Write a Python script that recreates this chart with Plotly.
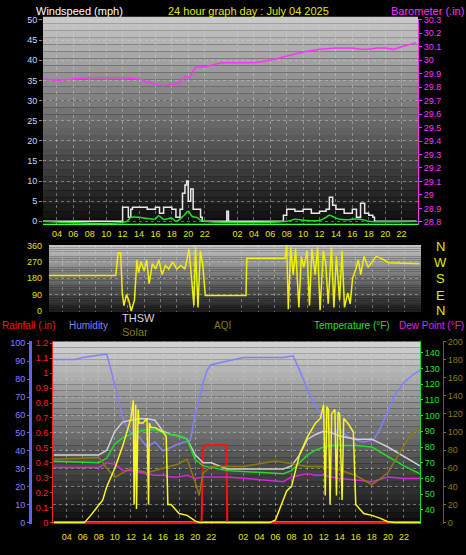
import plotly.graph_objects as go

W, H = 466, 555
def px(x): return x / W
def py(y): return 1 - y / H

# ---------------- data ----------------
hour_ticks = [4, 6, 8, 10, 12, 14, 16, 18, 20, 22, 26, 28, 30, 32, 34, 36, 38, 40, 42, 44, 46]
hour_labels = ["04", "06", "08", "10", "12", "14", "16", "18", "20", "22", "02", "04", "06", "08", "10", "12", "14", "16", "18", "20", "22"]
baro_ticks = [28.8, 28.9, 29.0, 29.1, 29.2, 29.3, 29.4, 29.5, 29.6, 29.7, 29.8, 29.9, 30.0, 30.1, 30.2, 30.3]
baro_labels = ["28.8", "28.9", "29", "29.1", "29.2", "29.3", "29.4", "29.5", "29.6", "29.7", "29.8", "29.9", "30", "30.1", "30.2", "30.3"]
rain_ticks = [0, 0.1, 0.2, 0.3, 0.4, 0.5, 0.6, 0.7, 0.8, 0.9, 1.0, 1.1, 1.2]
rain_labels = ["0", "0.1", "0.2", "0.3", "0.4", "0.5", "0.6", "0.7", "0.8", "0.9", "1", "1.1", "1.2"]

baro_t = [2.3, 4, 6, 8, 10, 12, 14, 16, 17, 18, 19, 19.6, 20.2, 20.6, 21, 22, 24, 26, 28, 30, 32, 34, 36, 38, 40, 41, 42, 43, 44, 45, 46, 47.8]
baro = [29.86, 29.85, 29.86, 29.87, 29.87, 29.87, 29.86, 29.82, 29.81, 29.82, 29.83, 29.88, 29.87, 29.92, 29.95, 29.95, 29.98, 29.98, 29.98, 30.00, 30.03, 30.06, 30.08, 30.09, 30.09, 30.08, 30.08, 30.09, 30.09, 30.08, 30.10, 30.13]

gust_t = [2.3, 11.9, 12.0, 12.6, 12.7, 13.0, 13.2, 14, 15, 16, 16.5, 17, 18, 18.5, 19, 19.3, 19.6, 19.8, 20.0, 20.3, 20.6, 21, 21.5, 21.7, 24.6, 24.7, 24.9, 25.0, 31.4, 31.6, 32, 33, 34, 35, 36, 36.8, 37.2, 37.6, 38, 39, 40, 40.5, 41, 41.5, 42, 42.5, 42.7, 47.8]
gust = [0, 0, 3.5, 3.5, 1, 3, 3.5, 3.5, 3, 3.5, 2, 3.5, 3, 1, 3, 7, 9, 10, 5, 8, 3, 3, 1, 0, 0, 2.5, 0, 0, 0, 1.5, 3, 2.5, 3, 2, 2.5, 3, 6, 4, 3, 2, 3, 1, 4.5, 2, 1.5, 1, 0, 0]
avg_t = [2.3, 12.5, 13, 14, 15, 16, 16.4, 17, 18, 18.5, 19.5, 20, 20.5, 21, 21.5, 22, 32, 33, 34, 36, 36.8, 37.2, 37.8, 38.5, 39.5, 40.5, 41.5, 42, 47.8]
avg = [0, 0, 1, 1, 0.7, 0.6, 1.4, 0.5, 0.8, 0, 1.5, 2.5, 1.2, 1, 0.3, 0, 0, 0.5, 0.3, 0.2, 1, 1.5, 1, 0.5, 0.4, 0.6, 0.3, 0, 0]

dir_t = [2.3, 10.5, 10.8, 11.1, 11.3, 11.5, 11.8, 12.1, 12.4, 12.8, 13.1, 13.3, 13.6, 14, 14.3, 14.6, 15, 15.4, 15.8, 16.2, 16.6, 17, 17.5, 18, 18.5, 19, 19.5, 19.8, 20.1, 20.3, 20.6, 20.9, 21.2, 21.5, 26.5, 26.6, 31.3, 31.5, 31.7, 32, 32.3, 32.6, 33, 33.3, 33.6, 34, 34.3, 34.6, 35, 35.3, 35.6, 36, 36.3, 36.6, 37, 37.3, 37.6, 38, 38.3, 38.6, 39, 39.3, 39.6, 40, 40.3, 40.6, 41, 41.5, 42, 42.5, 43, 43.5, 44, 47.8]
wdir = [195, 195, 320, 320, 100, 30, 90, 60, 0, 60, 280, 210, 270, 220, 280, 150, 260, 230, 280, 200, 250, 230, 270, 230, 250, 230, 340, 200, 30, 350, 20, 330, 250, 85, 85, 290, 290, 360, 10, 350, 200, 340, 20, 300, 240, 330, 30, 340, 200, 350, 5, 330, 260, 40, 350, 20, 300, 60, 330, 20, 100, 40, 180, 230, 280, 200, 300, 240, 270, 300, 290, 280, 265, 260]

hum_t = [2.4, 5, 6, 9, 10.1, 10.9, 11.3, 12, 13, 14, 15, 16, 17, 18, 19.4, 20, 21, 21.5, 22, 24, 26, 31, 32.2, 33, 33.9, 35, 36, 37, 38, 39, 40, 41, 42.2, 43, 44, 45, 46, 47, 48]
hum = [91, 91, 92, 94, 75, 60, 55, 50, 48, 42, 45, 40, 42, 44, 46, 60, 78, 85, 88, 90, 92, 92, 93, 85, 75, 65, 58, 50, 52, 48, 46, 45, 46, 52, 62, 72, 78, 82, 85]

th_t = [2.4, 8, 9, 10, 11, 12, 13, 14, 15, 16, 17, 18, 19, 20, 21, 22, 23, 24, 31, 32, 33, 34, 35, 36, 37, 38, 40, 42, 44, 46, 48]
thsw = [75, 75, 78, 90, 96, 97, 98, 98, 97, 90, 88, 87, 85, 75, 70, 70, 68, 66, 66, 68, 75, 85, 88, 90, 89, 87, 85, 85, 80, 74, 68]
temp = [71, 70, 73, 82, 86, 88, 90, 91, 91, 89, 88, 87, 85, 72, 68, 67, 66, 65, 63, 65, 70, 75, 78, 80, 81, 81, 81, 80, 74, 68, 63]
dew = [67, 67, 70, 69, 65, 65, 64, 63, 62, 62, 61, 61, 62, 60, 61, 61, 61, 61, 58, 61, 62, 63, 62, 62, 61, 60, 59, 58, 61, 60, 60]

sol_t = [2.4, 6.2, 7, 8, 8.5, 9, 10, 11, 12, 12.3, 12.4, 12.6, 12.7, 12.9, 13, 13.5, 14, 14.2, 14.3, 14.5, 15, 16, 16.4, 16.6, 17, 18, 19, 20, 20.5, 29.3, 30, 31.4, 32, 33, 34, 35, 35.6, 36, 36.2, 36.4, 36.6, 36.8, 37, 37.4, 37.6, 37.8, 38, 38.3, 38.5, 39, 39.4, 39.7, 40, 41, 42, 43, 44, 45, 48]
solar = [0, 0, 8, 20, 25, 40, 60, 85, 115, 135, 20, 130, 15, 125, 110, 110, 115, 20, 110, 105, 105, 100, 95, 20, 20, 10, 8, 2, 0, 0, 3, 35, 40, 75, 95, 110, 115, 130, 30, 128, 125, 20, 120, 125, 30, 122, 120, 25, 115, 110, 105, 100, 20, 10, 8, 5, 1, 0, 0]

aqi_t = [2.4, 8, 9, 10, 11, 12, 14, 16, 18, 19, 20, 20.5, 21, 22, 24, 26, 28, 30, 32, 34, 36, 38, 40, 42, 43, 44, 45, 46, 47, 48]
aqi = [70, 72, 60, 50, 55, 60, 55, 60, 65, 70, 45, 30, 55, 62, 62, 62, 65, 68, 65, 62, 62, 58, 52, 42, 48, 55, 70, 85, 98, 105]

rain_t = [2.4, 20.8, 21.0, 21.3, 23.9, 24.0, 48]
rain = [0, 0, 0.5, 0.52, 0.52, 0, 0]

# ---------------- figure ----------------
FONT = "Liberation Sans"
YEL = "#e6e600"
fig = go.Figure()

fig.add_trace(go.Scatter(x=baro_t, y=baro, yaxis="y2", mode="lines", line=dict(color="#ff30ff", width=1.5)))
fig.add_trace(go.Scatter(x=gust_t, y=gust, mode="lines", line=dict(color="#e8e8e8", width=1.5, shape="hv")))
fig.add_trace(go.Scatter(x=avg_t, y=avg, mode="lines", line=dict(color="#20e020", width=1.5, shape="spline")))
fig.add_trace(go.Scatter(x=[2.3, 48], y=[-0.8, -0.8], mode="lines", line=dict(color="#40ff40", width=1.5)))

fig.add_trace(go.Scatter(x=dir_t, y=wdir, xaxis="x2", yaxis="y3", mode="lines", line=dict(color="#f0f000", width=1.5)))

fig.add_trace(go.Scatter(x=hum_t, y=hum, xaxis="x3", yaxis="y4", mode="lines", line=dict(color="#8080ff", width=1.5)))
fig.add_trace(go.Scatter(x=th_t, y=thsw, xaxis="x3", yaxis="y6", mode="lines", line=dict(color="#d0d0d0", width=1.5)))
fig.add_trace(go.Scatter(x=aqi_t, y=aqi, xaxis="x3", yaxis="y7", mode="lines", line=dict(color="#8a7a10", width=1.5)))
fig.add_trace(go.Scatter(x=th_t, y=temp, xaxis="x3", yaxis="y6", mode="lines", line=dict(color="#20e020", width=1.5)))
fig.add_trace(go.Scatter(x=th_t, y=dew, xaxis="x3", yaxis="y6", mode="lines", line=dict(color="#e020e0", width=1.5)))
fig.add_trace(go.Scatter(x=sol_t, y=solar, xaxis="x3", yaxis="y7", mode="lines", line=dict(color="#f8f820", width=1.5)))
fig.add_trace(go.Scatter(x=[2.4, 48], y=[0.003, 0.003], xaxis="x3", yaxis="y5", mode="lines", line=dict(color="#ffa000", width=2)))
fig.add_trace(go.Scatter(x=rain_t, y=rain, xaxis="x3", yaxis="y5", mode="lines", line=dict(color="#ff1010", width=2)))

# gradient backgrounds
shapes = []
def grad(x0, x1, y0, y1, top, bot, n=30):
    for i in range(n):
        f = i / (n - 1)
        c = int(top + (bot - top) * f)
        shapes.append(dict(type="rect", xref="paper", yref="paper", layer="below",
                           x0=px(x0), x1=px(x1), y0=py(y0 + (y1 - y0) * i / n), y1=py(y0 + (y1 - y0) * (i + 1) / n),
                           line=dict(width=0), fillcolor=f"rgb({c},{c},{c})"))
grad(43, 418, 12, 224, 200, 14)
grad(49, 421, 244, 312, 195, 30)
grad(53, 420, 342, 528, 210, 14)

grid = dict(showgrid=True, gridcolor="rgba(210,210,210,0.45)", griddash="dot", gridwidth=1, zeroline=False)
tf = dict(family=FONT, size=9)
xcommon = dict(range=[2.3, 48], tickvals=hour_ticks, ticktext=hour_labels, tickfont=dict(tf, color=YEL), **grid)

fig.update_layout(
    width=W, height=H, margin=dict(l=0, r=0, t=0, b=0),
    paper_bgcolor="black", plot_bgcolor="rgba(0,0,0,0)", showlegend=False, shapes=shapes,
    font=dict(family=FONT),
    xaxis=dict(domain=[px(43), px(418)], anchor="y", ticklabelstandoff=2, **xcommon),
    yaxis=dict(domain=[py(224), py(14)], range=[-1, 50.3], dtick=5, tickfont=dict(tf, color="#c8d8ff"),
               ticks="outside", ticklen=3, tickcolor="#888", **grid),
    yaxis2=dict(overlaying="y", side="right", range=[28.774, 30.307], tickvals=baro_ticks, ticktext=baro_labels,
                tickfont=dict(tf, color="#ff30ff"), showgrid=False, zeroline=False,
                showline=True, linecolor="#ff30ff", ticks="outside", ticklen=3, tickcolor="#ff30ff"),
    xaxis2=dict(domain=[px(49), px(421)], anchor="y3", showticklabels=False, **xcommon),
    yaxis3=dict(domain=[py(312), py(244)], range=[-5, 362], tickvals=[0, 90, 180, 270, 360],
                tickfont=dict(tf, color="#e0e000"), **grid),
    xaxis3=dict(domain=[px(53), px(420)], anchor="y4", ticklabelstandoff=6, **xcommon),
    yaxis4=dict(domain=[py(528), py(342)], range=[-1, 101], dtick=10, anchor="free", position=px(30),
                tickfont=dict(tf, color="#8080ff"), showline=True, linecolor="#6060ff", linewidth=3,
                ticks="outside", ticklen=2, tickcolor="#6060ff", **grid),
    yaxis5=dict(overlaying="y4", anchor="x3", side="left", range=[-0.012, 1.212], tickvals=rain_ticks, ticktext=rain_labels,
                tickfont=dict(tf, color="#ff2020"), showgrid=False, zeroline=False, showline=True,
                linecolor="#ff2020", ticks="outside", ticklen=2, tickcolor="#ff2020"),
    yaxis6=dict(overlaying="y4", anchor="x3", side="right", range=[30.8, 147.1], tickvals=[40, 50, 60, 70, 80, 90, 100, 110, 120, 130, 140],
                tickfont=dict(tf, color="#20e020"), showgrid=False, zeroline=False, showline=True, linecolor="#20e020",
                ticks="outside", ticklen=2, tickcolor="#20e020"),
    yaxis7=dict(overlaying="y4", anchor="free", side="right", position=px(443), range=[-2, 200], dtick=20,
                tickfont=dict(tf, color="#8a7a10"), showgrid=False, zeroline=False, showline=True, linecolor="#6a6010",
                ticks="outside", ticklen=2, tickcolor="#8a7a10"),
)

def ann(text, x, y, color, size=11, xanchor="left"):
    fig.add_annotation(text=text, x=px(x), y=py(y), xref="paper", yref="paper", showarrow=False,
                       xanchor=xanchor, yanchor="middle", font=dict(family=FONT, size=size, color=color))

ann("Windspeed (mph)", 34, 6, "white")
ann("24 hour graph day : July 04 2025", 248, 6, YEL, xanchor="center")
ann("Barometer (.in)", 466, 6, "#ff30ff", xanchor="right")
for t, y in zip(["N", "W", "S", "E", "N"], [245, 262, 278, 295, 311]):
    ann(t, 440, y, YEL, size=13, xanchor="center")
ann("Rainfall (.in)", 0, 326, "#ff1010", size=10)
ann("Humidity", 67, 326, "#8080ff", size=10)
ann("THSW", 120, 318, "#d8d8d8")
ann("Solar", 120, 332, "#8a7a10")
ann("AQI", 212, 326, "#8a7a10", size=10)
ann("Temperature (°F)", 312, 326, "#20e020", size=10)
ann("Dew Point (°F)", 466, 326, "#e020e0", size=10, xanchor="right")

fig.write_html("out.html", config={"displayModeBar": False},
               post_script="document.body.style.margin='0';document.body.style.overflow='hidden';")
